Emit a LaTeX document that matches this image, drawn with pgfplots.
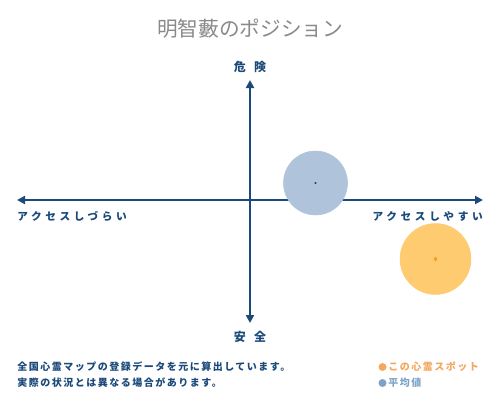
\documentclass[border=0pt]{standalone}
\usepackage{fontspec}
\setmainfont{Noto Sans CJK JP}
\newfontfamily\jpsp[LetterSpace=34]{Noto Sans CJK JP}
\newfontfamily\jpnote[LetterSpace=15]{Noto Sans CJK JP}
\usepackage{pgfplots}
\pgfplotsset{compat=1.18}
\usetikzlibrary{arrows.meta}

\definecolor{navy}{HTML}{1B4A7A}
\definecolor{titlegray}{HTML}{8A8A8A}
\definecolor{avgblue}{HTML}{AFC3DA}
\definecolor{spotorange}{HTML}{FFCB70}
\definecolor{spotdot}{HTML}{F0A020}
\definecolor{legorange}{HTML}{F2A860}
\definecolor{legblue}{HTML}{7FA3C6}

\begin{document}
\begin{tikzpicture}
  % canvas in pixel units: 500 x 400, y runs downwards
  \begin{axis}[
      scale only axis,
      width=375pt, height=300pt,
      xmin=0, xmax=500, ymin=0, ymax=400,
      y dir=reverse,
      hide axis,
      clip=false,
    ]
    % average position
    \addplot[only marks, mark=*, mark size=24pt, color=avgblue]
      coordinates {(315.5,183)};
    % this spot
    \addplot[only marks, mark=*, mark size=26.6pt, color=spotorange]
      coordinates {(435.5,259)};
    \addplot[only marks, mark=*, mark size=0.6pt, color=navy]
      coordinates {(315.5,183)};
    \addplot[only marks, mark=diamond*, mark size=1.5pt, color=spotdot]
      coordinates {(435.5,259)};

    % cross of arrows
    \draw[navy, line width=1.5pt, {Triangle[length=6pt,width=6pt]}-{Triangle[length=6pt,width=6pt]}]
      (axis cs:17,200) -- (axis cs:483,200);
    \draw[navy, line width=1.5pt, {Triangle[length=6pt,width=6pt]}-{Triangle[length=6pt,width=6pt]}]
      (axis cs:250,80) -- (axis cs:250,323);

    % title and axis labels
    \node[titlegray, font=\fontsize{15.5pt}{17pt}\selectfont] at (axis cs:250,29) {明智藪のポジション};
    \node[navy, font=\fontsize{9pt}{10pt}\selectfont\bfseries] at (axis cs:250,67) {危\hspace{0.7em}険};
    \node[navy, font=\fontsize{9pt}{10pt}\selectfont\bfseries] at (axis cs:250,337) {安\hspace{0.7em}全};
    \node[navy, anchor=west, inner sep=0pt, font=\jpsp\fontsize{8pt}{9pt}\selectfont\bfseries]
      at (axis cs:17,216) {アクセスしづらい};
    \node[navy, anchor=east, inner sep=0pt, font=\jpsp\fontsize{8pt}{9pt}\selectfont\bfseries]
      at (axis cs:483,216) {アクセスしやすい};

    % notes
    \node[navy, anchor=west, inner sep=0pt, font=\jpnote\fontsize{7.5pt}{9pt}\selectfont\bfseries]
      at (axis cs:17,367) {全国心霊マップの登録データを元に算出しています。};
    \node[navy, anchor=west, inner sep=0pt, font=\jpnote\fontsize{7.5pt}{9pt}\selectfont\bfseries]
      at (axis cs:17,383) {実際の状況とは異なる場合があります。};

    % legend
    \fill[legorange] (axis cs:382.5,367) circle (3pt);
    \node[legorange, anchor=west, inner sep=0pt, font=\jpnote\fontsize{7.5pt}{9pt}\selectfont\bfseries]
      at (axis cs:388,367) {この心霊スポット};
    \fill[legblue] (axis cs:382.5,383) circle (3pt);
    \node[legblue, anchor=west, inner sep=0pt, font=\jpnote\fontsize{7.5pt}{9pt}\selectfont\bfseries]
      at (axis cs:388,383) {平均値};
  \end{axis}
  % the picture is the whole 500 x 400 canvas
  \pgfresetboundingbox
  \path (0,0) rectangle (375pt,300pt);
\end{tikzpicture}
\end{document}
